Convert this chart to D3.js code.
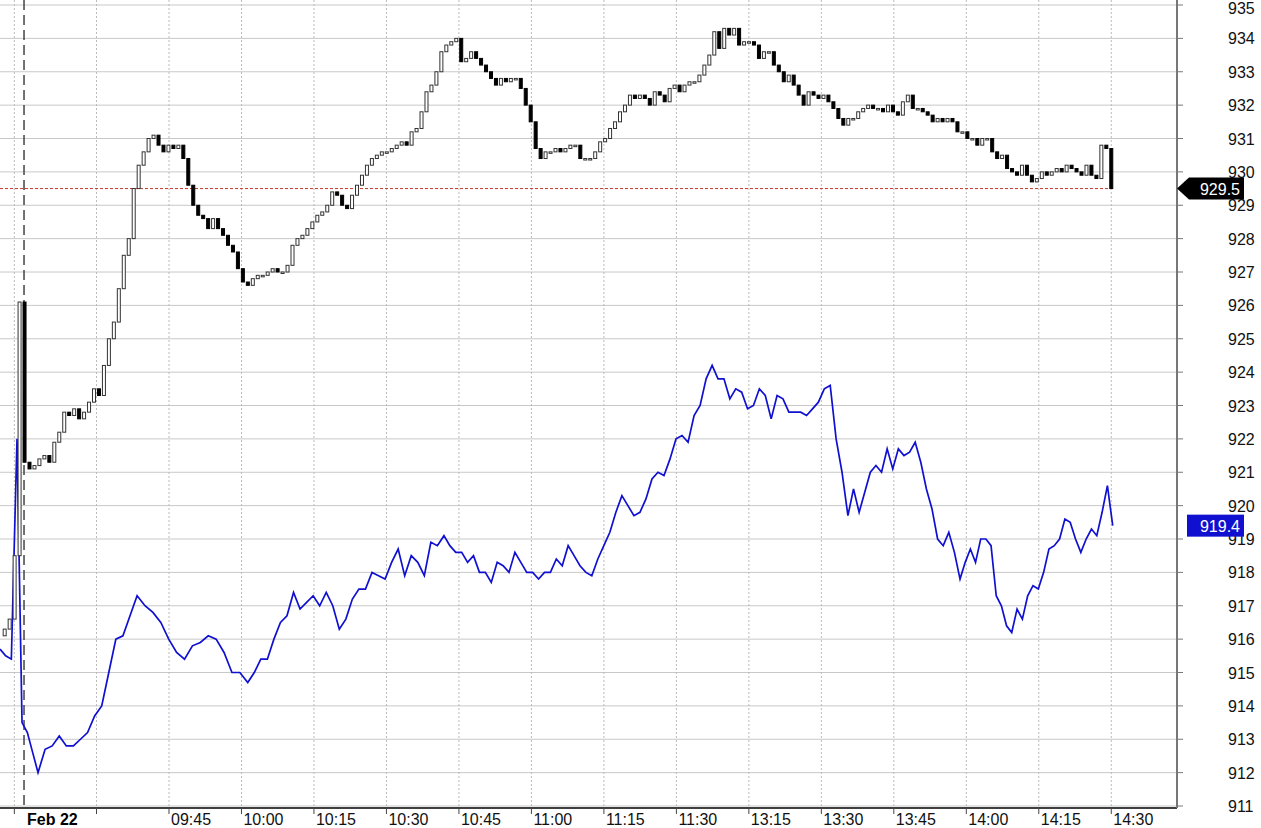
<!DOCTYPE html>
<html><head><meta charset="utf-8">
<script src="https://cdn.jsdelivr.net/npm/d3@7"></script>
<style>body{margin:0;background:#fff}svg{display:block;font-family:Arial,"Liberation Sans",sans-serif}</style>
</head><body><svg id="c" width="1261" height="828"></svg>
<script>
// closes, one per minute bar (first 4 bars belong to the previous session)
const closes = [916.3,916.6,918.5,926.1,921.3,
921.1,921.2,921.4,921.5,921.3,921.9,922.2,922.8,922.7,922.9,922.6,922.8,923.1,923.5,923.3,924.2,925,925.5,926.5,927.5,928,929.5,930.2,930.6,931,931.1,930.8,930.6,930.8,930.7,930.8,930.4,929.6,929,928.7,928.6,928.3,928.6,928.3,928.1,927.8,927.6,927.1,926.7,926.6,926.8,926.9,926.9,927,927.1,927,927,927.2,927.8,928,928.1,928.3,928.5,928.7,928.8,929,929.4,929.3,929,928.9,929.3,929.6,929.9,930.2,930.4,930.5,930.6,930.6,930.7,930.8,930.9,930.8,931.2,931.3,931.8,932.4,932.6,933,933.6,933.8,933.9,934,933.3,933.4,933.6,933.4,933.2,933,932.8,932.6,932.8,932.7,932.8,932.8,932.5,932,931.5,930.7,930.4,930.6,930.6,930.7,930.6,930.7,930.8,930.8,930.4,930.4,930.4,930.6,930.9,931,931.3,931.5,931.8,932,932.3,932.2,932.3,932.2,932,932.4,932.3,932.1,932.5,932.6,932.4,932.6,932.7,932.7,932.9,933.2,933.5,934.2,933.7,934.3,934.1,934.3,933.8,933.9,933.9,933.8,933.4,933.6,933.6,933.2,933,932.7,932.9,932.6,932.3,932,932.4,932.3,932.2,932.3,932.1,931.9,931.6,931.4,931.6,931.6,931.8,931.9,932,931.9,931.9,931.8,932,931.8,931.7,932.1,932.3,931.9,931.9,931.8,931.7,931.5,931.6,931.5,931.6,931.5,931.2,931.2,931,931,930.8,931,931,930.6,930.4,930.5,930.1,930,929.9,930.2,929.9,929.7,929.8,930,929.9,930,930.1,930,930.2,930.1,930,929.9,930.2,929.9,929.8,930.8,930.7,929.5];
const firstOpen = 916.1;
const barStart = -4, barEnd = 225;   // minutes covered by the bars

const blue = [915.7,915.5,915.4,922,913.5,913.2,912.6,912,912.7,912.8,913.1,912.8,912.8,913,913.2,913.7,914,915,916,916.1,916.7,917.3,917,916.8,916.5,916,915.6,915.4,915.8,915.9,916.1,916,915.6,915,915,914.7,915,915.4,915.4,916,916.5,916.7,917.4,916.9,917.1,917.3,917,917.4,917,916.3,916.6,917.2,917.5,917.5,918,917.9,917.8,918.3,918.7,917.9,918.5,918.3,917.9,918.9,918.8,919.1,918.8,918.6,918.6,918.3,918.5,918,918,917.7,918.3,918.2,918,918.6,918.3,918,918,917.8,918,918,918.4,918.2,918.8,918.5,918.2,918,917.9,918.4,918.8,919.2,919.8,920.3,920,919.7,919.8,920.2,920.8,921,920.9,921.4,922,922.1,921.9,922.7,923,923.8,924.2,923.8,923.8,923.2,923.5,923.4,922.9,923,923.5,923.3,922.6,923.3,923.2,922.8,922.8,922.8,922.7,922.9,923.1,923.5,923.6,922,921,919.7,920.5,919.8,920.4,921,921.2,921,921.7,921.1,921.7,921.5,921.6,921.9,921.3,920.5,919.9,919,918.8,919.2,918.6,917.8,918.3,918.7,918.3,919,919,918.8,917.3,917,916.4,916.2,916.9,916.6,917.3,917.6,917.5,918,918.7,918.8,919,919.6,919.5,919,918.6,919,919.3,919.1,919.8,920.6,919.4];
// sample index -> minute anchors for the blue series
const blueAnchorIdx = [0,3,4,7,21,35,65,90,110,133,153,163,182];
const blueAnchorMin = [-4.97,-1.45,-0.41,2.9,23.4,46.3,86.9,117.5,142.4,170.5,193.7,204.4,225.3];

const tickLabels = ["09:45","10:00","10:15","10:30","10:45","11:00","11:15","11:30","13:15","13:30","13:45","14:00","14:15","14:30"];
const tickMinutes = [30,45,60,75,90,105,120,135,150,165,180,195,210,225];
const priceTicks = d3.range(911,936);
const lastPrice = 929.5, bluePrice = 919.4;

const plotR = 1177, plotB = 808;
const svg = d3.select('#c');
const x = d3.scaleLinear().domain([-4.97, 238.6]).range([0, plotR]);
const y = d3.scaleLinear().domain([911, 935]).range([806, 5]);

// grid
svg.append('g').selectAll('line').data(priceTicks).join('line')
  .attr('x1', 0).attr('x2', plotR).attr('y1', d => y(d)).attr('y2', d => y(d))
  .attr('stroke', '#c8c8c8').attr('stroke-width', 1);
svg.append('g').selectAll('line').data([-2, 15].concat(tickMinutes)).join('line')
  .attr('x1', d => x(d)).attr('x2', d => x(d)).attr('y1', 0).attr('y2', plotB)
  .attr('stroke', '#bbb').attr('stroke-dasharray', '2,2');
svg.append('line').attr('x1', x(0)).attr('x2', x(0)).attr('y1', 0).attr('y2', plotB)
  .attr('stroke', '#444').attr('stroke-width', 1.5).attr('stroke-dasharray', '10,5');

// last price line
svg.append('line').attr('x1', 0).attr('x2', x(barEnd)).attr('y1', y(lastPrice)).attr('y2', y(lastPrice))
  .attr('stroke', '#c0392b').attr('stroke-dasharray', '3,2');

// blue line
const bx = d3.scaleLinear().domain(blueAnchorIdx).range(blueAnchorMin);
svg.append('path').datum(blue)
  .attr('fill', 'none').attr('stroke', '#1010d0').attr('stroke-width', 1.7)
  .attr('d', d3.line().x((d, i) => x(bx(i))).y(d => y(d)));

// candles
const cx = d3.scaleLinear().domain([0, closes.length - 1]).range([barStart, barEnd]);
const bars = closes.map((c, i) => ({ i, o: i ? closes[i - 1] : firstOpen, c }));
const bw = 3;
svg.append('g').selectAll('rect').data(bars).join('rect')
  .attr('x', d => x(cx(d.i)) - bw / 2)
  .attr('width', bw)
  .attr('y', d => y(Math.max(d.o, d.c)))
  .attr('height', d => Math.max(1.5, Math.abs(y(d.o) - y(d.c))))
  .attr('fill', d => d.c >= d.o ? '#fff' : '#000')
  .attr('stroke', d => d.c >= d.o ? '#333' : '#000').attr('stroke-width', 1);

// axes
svg.append('line').attr('x1', 0).attr('x2', plotR).attr('y1', plotB).attr('y2', plotB).attr('stroke', '#000').attr('stroke-width', 1.5);
svg.append('line').attr('x1', plotR).attr('x2', plotR).attr('y1', 0).attr('y2', plotB).attr('stroke', '#777').attr('stroke-width', 2);

const ya = svg.append('g');
ya.selectAll('line').data(priceTicks).join('line')
  .attr('x1', plotR).attr('x2', plotR + 6).attr('y1', d => y(d)).attr('y2', d => y(d)).attr('stroke', '#777');
ya.selectAll('text').data(priceTicks).join('text')
  .attr('x', 1228).attr('y', d => Math.max(y(d) + 6, 14)).attr('font-size', 16).attr('fill', '#111').text(d => d);

const xa = svg.append('g');
xa.selectAll('line').data([-2, 15].concat(tickMinutes)).join('line')
  .attr('x1', d => x(d)).attr('x2', d => x(d)).attr('y1', plotB).attr('y2', plotB + 6).attr('stroke', '#444');
xa.selectAll('text').data(tickMinutes).join('text')
  .attr('x', d => x(d) + 2).attr('y', 825).attr('font-size', 16).attr('fill', '#111')
  .text((d, i) => tickLabels[i]);
svg.append('text').attr('x', 27).attr('y', 825).attr('font-size', 16).attr('font-weight', 'bold').text('Feb 22');

// price tags
const ty = y(lastPrice);
svg.append('path').attr('d', `M${plotR},${ty} L${plotR + 12},${ty - 11} H1244 V${ty + 11} H${plotR + 12} Z`).attr('fill', '#000');
svg.append('text').attr('x', 1240).attr('y', ty + 6).attr('text-anchor', 'end').attr('font-size', 16).attr('fill', '#fff').text(lastPrice.toFixed(1));
const by = y(bluePrice);
svg.append('rect').attr('x', 1187).attr('y', by - 11).attr('width', 57).attr('height', 22).attr('fill', '#1010d0');
svg.append('text').attr('x', 1240).attr('y', by + 6).attr('text-anchor', 'end').attr('font-size', 16).attr('fill', '#fff').text(bluePrice.toFixed(1));
</script></body></html>
